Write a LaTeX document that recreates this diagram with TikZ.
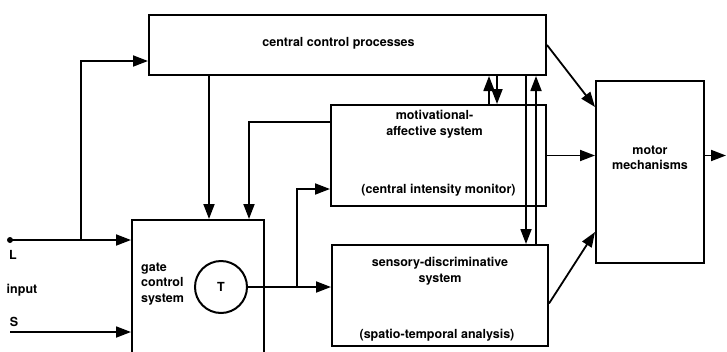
\documentclass[tikz,border=0pt]{standalone}
\usepackage{fontspec}
\setmainfont{TeX Gyre Heros}
\usetikzlibrary{positioning}
\usetikzlibrary{calc}
\usetikzlibrary{arrows.meta}

\begin{document}
\begin{tikzpicture}[x=1pt, y=-1pt, every node/.style={font=\fontsize{12.5}{15.5}\selectfont\bfseries},
    box/.style={draw, line width=2pt, rectangle, inner sep=0pt, anchor=north west},
    arr/.style={line width=1.8pt, -{Triangle[length=15pt,width=11pt]}}]
    \useasboundingbox (0,0) rectangle (727,351);
    \clip (0,0) rectangle (727,351);

    \node[box, minimum width=397pt, minimum height=60pt] (ccp) at (148,14) {};
    \node[box, minimum width=215pt, minimum height=101pt] (mot) at (330,104) {};
    \node[box, minimum width=216pt, minimum height=101pt] (sens) at (331,244) {};
    \node[box, minimum width=132pt, minimum height=150pt] (gate) at (131,219) {};
    \node[box, minimum width=108pt, minimum height=182pt] (motor) at (595,80) {};
    \node[draw, circle, line width=2pt, minimum size=52pt, inner sep=0pt] (T) at (221,287) {T};

    \node (ccpt) at ($(ccp.center)+(-9,-2)$) {central control processes};
    \node[align=center] (mott) at ($(mot.north)+(-4,20)$) {motivational-\\affective system};
    \node (moti) at ($(mot.south)+(0,-17)$) {(central intensity monitor)};
    \node[align=center] (senst) at ($(sens.north)+(0,27)$) {sensory-discriminative\\system};
    \node (sensa) at ($(sens.south)+(-3,-12)$) {(spatio-temporal analysis)};
    \node[align=left, anchor=west, inner sep=0pt] (gatet) at ($(gate.north west)+(10,65)$) {gate\\control\\system};
    \node[align=center] (motort) at ($(motor.center)+(0,-14)$) {motor\\mechanisms};

    \node (L) at (13,255) {L};
    \node (inp) at (22,290) {input};
    \node (S) at (14,322) {S};

    \coordinate (Lin) at (10,240);
    \coordinate (Sin) at (10,332);
    \coordinate (Lb) at (81,240);
    \coordinate (out) at (726,0);
    \fill (Lin) circle (3);

    \draw[arr] (Lin) -- (Lin -| gate.west);
    \draw[arr] (Sin) -- (Sin -| gate.west);
    \draw[arr] (Lb) |- ($(ccp.south west)+(0,-15)$);
    \draw[arr] ($(ccp.south west)+(61,0)$) coordinate (c1) -- (c1 |- gate.north);
    \draw[arr] ($(mot.north west)+(0,18)$) -| ($(gate.north west)+(118,0)$);
    \draw[arr] ($(mot.north west)+(159,0)$) coordinate (u1) -- (u1 |- ccp.south);
    \draw[arr] ($(ccp.south west)+(349,0)$) coordinate (d1) -- (d1 |- mot.north);
    \draw[arr] ($(ccp.south west)+(378,0)$) coordinate (d2) -- (d2 |- sens.north);
    \draw[arr] ($(sens.north west)+(205,0)$) coordinate (u2) -- (u2 |- ccp.south);
    \draw[arr] (T.east) -- (T.east -| sens.west);
    \draw[arr] ($(T.east)+(49,0)$) |- ($(mot.south west)+(0,-18)$);
    \draw[arr] (ccp.east) -- ($(motor.north west)+(0,27)$);
    \draw[arr] (mot.east) -- (mot.east -| motor.west);
    \draw[arr] ($(sens.east)+(0,8)$) -- ($(motor.south west)+(0,-32)$);
    \draw[arr] (mot.east -| motor.east) -- (mot.east -| out);
\end{tikzpicture}
\end{document}
